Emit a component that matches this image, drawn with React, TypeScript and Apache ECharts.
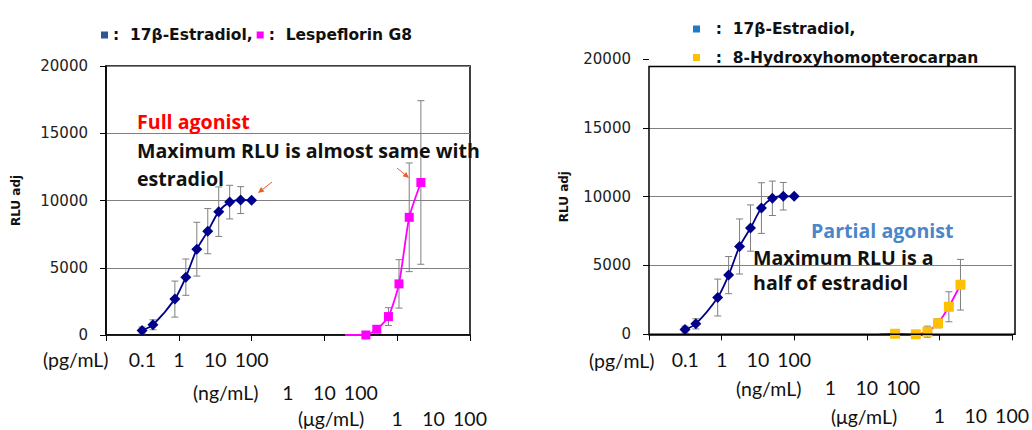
import React, { useEffect, useRef } from "react";
import * as echarts from "echarts";

// ---------- data (concentrations in pg/mL) ----------
const estConc = [0.098, 0.195, 0.78, 1.56, 3.125, 6.25, 12.5, 25, 50, 100];
const estRlu = [340, 760, 2670, 4300, 6380, 7720, 9170, 9880, 10030, 10020];
const estErr = [250, 370, 1340, 1350, 2000, 1680, 1840, 1250, 1000, 0];

const lespConc = [37000, 138000, 275000, 575000, 1120000, 2140000, 4470000];
const lespRlu = [0, 0, 425, 1370, 3800, 8750, 11340];
const lespErr = [0, 0, 0, 660, 1800, 4040, 6080];

const hydConc = [22400, 60000, 224000, 468000, 912000, 1820000, 3800000];
const hydRlu = [0, 40, 0, 190, 800, 2000, 3600];
const hydErr = [0, 0, 0, 400, 330, 1090, 1840];

// tick labels of the three unit rows (decade exponent of pg/mL -> label)
const pgExp = [-1, 0, 1, 2];
const pgLabels = ["0.1", "1", "10", "100"];
const ngExp = [3, 4, 5];
const ngLabels = ["1", "10", "100"];
const ugExp = [6, 7, 8];
const ugLabels = ["1", "10", "100"];
const unitNames = ["(pg/mL)", "(ng/mL)", "(\u03bcg/mL)"];

const yTickMax = 20000;
const yTickStep = 5000;

const EST = "17\u03b2-Estradiol";
const LESP = "Lespeflorin G8";
const HYD = "8-Hydroxyhomopterocarpan";

const LAB_FONT = "Lato";
const NOTE_FONT = "'Open Sans'";

function rowFormatter(exps: number[], labels: string[]) {
  return (v: number) => {
    const i = exps.indexOf(Math.round(v));
    return i >= 0 ? labels[i] : "";
  };
}

function labelAxis(gridIndex: number, offset: number, exps: number[], labels: string[]) {
  return {
    type: "value",
    gridIndex,
    position: "bottom",
    offset,
    min: -2,
    max: 8,
    interval: 1,
    axisLine: { show: false, onZero: false },
    axisTick: { show: false },
    splitLine: { show: false },
    axisLabel: {
      show: true,
      margin: 0,
      showMinLabel: true,
      showMaxLabel: true,
      hideOverlap: false,
      fontFamily: LAB_FONT,
      fontSize: 19.5,
      color: "#111",
      formatter: rowFormatter(exps, labels),
    },
  };
}

function mainXAxis(gridIndex: number) {
  return {
    type: "log",
    logBase: 100,
    gridIndex,
    position: "bottom",
    min: 0.01,
    max: 1e8,
    splitNumber: 5,
    axisLine: { show: true, onZero: false, lineStyle: { color: "#000", width: 1.5 } },
    axisTick: { show: true, inside: false, length: 6, lineStyle: { color: "#000", width: 1 } },
    axisLabel: { show: false },
    splitLine: { show: false },
  };
}

function yAxis(gridIndex: number, nameGap: number, showLine: boolean, showMax: boolean) {
  return {
    type: "value",
    gridIndex,
    position: "left",
    min: 0,
    max: yTickMax,
    interval: yTickStep,
    name: "RLU adj",
    nameLocation: "middle",
    nameRotate: 90,
    nameGap,
    nameTextStyle: { fontFamily: "DejaVu Sans", fontWeight: "bold", fontSize: 12, color: "#111" },
    axisLine: { show: showLine, onZero: false, lineStyle: { color: "#000", width: 1.5 } },
    axisTick: { show: true, inside: false, length: 6, lineStyle: { color: "#000" } },
    axisLabel: {
      margin: 18,
      fontFamily: "DejaVu Sans",
      fontSize: 15,
      color: "#222",
      formatter: (v: number) => String(v),
    },
    splitLine: { show: true, showMaxLine: showMax, lineStyle: { color: "#808080", width: 1 } },
  };
}

function errSeries(name: string, xi: number, yi: number, conc: number[], rlu: number[], err: number[]) {
  return {
    type: "custom",
    name: name + " err",
    xAxisIndex: xi,
    yAxisIndex: yi,
    z: 1,
    silent: true,
    encode: { x: 0, y: 1 },
    data: conc.map((c, i) => [c, rlu[i], err[i]]),
    renderItem: (params: any, api: any) => {
      const x = api.value(0);
      const y = api.value(1);
      const e = api.value(2);
      if (!e) return { type: "group", children: [] };
      const top = api.coord([x, y + e]);
      const bot = api.coord([x, y - e]);
      const hw = 3.5;
      const st = { stroke: "#7f7f7f", lineWidth: 1 };
      return {
        type: "group",
        children: [
          { type: "line", shape: { x1: top[0], y1: top[1], x2: bot[0], y2: bot[1] }, style: st },
          { type: "line", shape: { x1: top[0] - hw, y1: top[1], x2: top[0] + hw, y2: top[1] }, style: st },
          { type: "line", shape: { x1: bot[0] - hw, y1: bot[1], x2: bot[0] + hw, y2: bot[1] }, style: st },
        ],
      };
    },
  };
}

function estSeries(xi: number, yi: number) {
  return {
    type: "line",
    name: EST,
    xAxisIndex: xi,
    yAxisIndex: yi,
    z: 3,
    smooth: 0.25,
    symbol: "diamond",
    symbolSize: 11,
    lineStyle: { color: "#00008B", width: 1.8 },
    itemStyle: { color: "#00008B" },
    data: estConc.map((c, i) => [c, estRlu[i]]),
  };
}

function compSeries(name: string, xi: number, yi: number, conc: number[], rlu: number[], color: string, size: number) {
  return {
    type: "line",
    name,
    xAxisIndex: xi,
    yAxisIndex: yi,
    z: 3,
    smooth: 0.2,
    symbol: "rect",
    symbolSize: size,
    lineStyle: { color: "#FF00FF", width: 1.8 },
    itemStyle: { color },
    data: conc.map((c, i) =>
      i === 0 ? { value: [c, rlu[i]], symbol: "none" } : [c, rlu[i]]
    ),
  };
}

function txt(x: number, y: number, text: string, fill: string, bold: boolean, size: number, family: string) {
  return {
    type: "text",
    x,
    y,
    z: 10,
    style: {
      text,
      fill,
      font: `${bold ? "bold " : ""}${size}px ${family}`,
      align: "left",
      verticalAlign: "middle",
    },
  };
}

function arrow(x1: number, y1: number, x2: number, y2: number) {
  const dx = x2 - x1;
  const dy = y2 - y1;
  const L = Math.hypot(dx, dy);
  const ux = dx / L;
  const uy = dy / L;
  const hl = 6;
  const hw = 2.8;
  const bx = x2 - ux * hl;
  const by = y2 - uy * hl;
  const c = "#F05A28";
  return {
    type: "group",
    z: 10,
    children: [
      { type: "line", shape: { x1, y1, x2: bx, y2: by }, style: { stroke: c, lineWidth: 1 } },
      {
        type: "polygon",
        shape: { points: [[x2, y2], [bx - uy * hw, by + ux * hw], [bx + uy * hw, by - ux * hw]] },
        style: { fill: c },
      },
    ],
  };
}

export default function App() {
  const ref = useRef<HTMLDivElement>(null);

  useEffect(() => {
    if (!ref.current) return;
    const chart = echarts.init(ref.current, null, { renderer: "svg" });

    const legendText = { fontFamily: "DejaVu Sans", fontWeight: "bold", fontSize: 15.5, color: "#111" };
    const legFmtL = (n: string) => ":  " + n + (n === EST ? "," : "");
    const legFmtR = (n: string) => "  :  " + n + (n === EST ? "," : "");

    const note = (x: number, y: number, t: string, c: string) => txt(x, y, t, c, true, 19.6, NOTE_FONT);
    const unit = (x: number, y: number, t: string) => txt(x, y, t, "#111", false, 19.5, LAB_FONT);

    const option: any = {
      animation: false,
      backgroundColor: "#fff",
      grid: [
        { left: 106, top: 66, width: 364, height: 269, show: true, borderColor: "#000", borderWidth: 1.5, backgroundColor: "transparent" },
        { left: 649, top: 59, width: 366, height: 275.3, show: false },
      ],
      legend: [
        {
          left: 96,
          top: 22,
          icon: "rect",
          itemWidth: 7,
          itemHeight: 7,
          itemGap: 4,
          selectedMode: false,
          textStyle: legendText,
          formatter: legFmtL,
          data: [
            { name: EST, itemStyle: { color: "#2F5597", borderWidth: 0 } },
            { name: LESP, itemStyle: { color: "#FF00FF", borderWidth: 0 } },
          ],
        },
        {
          left: 688,
          top: 16,
          orient: "vertical",
          icon: "rect",
          itemWidth: 7,
          itemHeight: 7,
          itemGap: 12.5,
          selectedMode: false,
          textStyle: legendText,
          formatter: legFmtR,
          data: [
            { name: EST, itemStyle: { color: "#1F7BC8", borderWidth: 0 } },
            { name: HYD, itemStyle: { color: "#FFC000", borderWidth: 0 } },
          ],
        },
      ],
      xAxis: [
        mainXAxis(0),
        labelAxis(0, 14, pgExp, pgLabels),
        labelAxis(0, 47, ngExp, ngLabels),
        labelAxis(0, 73, ugExp, ugLabels),
        mainXAxis(1),
        labelAxis(1, 15, pgExp, pgLabels),
        labelAxis(1, 43, ngExp, ngLabels),
        labelAxis(1, 71, ugExp, ugLabels),
      ],
      yAxis: [yAxis(0, 84, true, true), yAxis(1, 79, false, false)],
      series: [
        errSeries(EST, 0, 0, estConc, estRlu, estErr),
        estSeries(0, 0),
        errSeries(LESP, 0, 0, lespConc, lespRlu, lespErr),
        compSeries(LESP, 0, 0, lespConc, lespRlu, "#FF00FF", 9),
        errSeries(EST, 4, 1, estConc, estRlu, estErr),
        estSeries(4, 1),
        errSeries(HYD, 4, 1, hydConc, hydRlu, hydErr),
        compSeries(HYD, 4, 1, hydConc, hydRlu, "#FFC000", 10),
      ],
      graphic: [
        {
          type: "rect",
          z: 5,
          shape: { x: 649, y: 66.5, width: 366, height: 267.8 },
          style: { fill: "none", stroke: "#000", lineWidth: 1.5 },
        },
        note(137, 121, "Full agonist", "#FF0000"),
        note(137, 150, "Maximum RLU is almost same with", "#111"),
        note(137, 178, "estradiol", "#111"),
        note(811, 230, "Partial agonist", "#4A86C8"),
        note(753, 257, "Maximum RLU is a", "#111"),
        note(753, 282, "half of estradiol", "#111"),
        arrow(272, 182, 258, 193),
        arrow(397, 168, 409, 178),
        unit(43, 359, unitNames[0]),
        unit(193, 392, unitNames[1]),
        unit(298, 418, unitNames[2]),
        unit(589, 360, unitNames[0]),
        unit(736, 388, unitNames[1]),
        unit(831, 416, unitNames[2]),
      ],
    };

    chart.setOption(option);
    return () => chart.dispose();
  }, []);

  return (
    <div
      ref={ref}
      style={{ position: "absolute", left: 0, top: 0, width: 1032, height: 430, background: "#fff" }}
    />
  );
}
